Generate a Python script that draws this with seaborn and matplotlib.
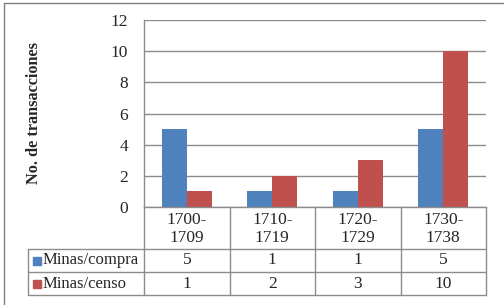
import matplotlib
matplotlib.use("Agg")
import matplotlib.pyplot as plt
from matplotlib.lines import Line2D
from matplotlib.patches import Rectangle
import matplotlib.transforms as mtransforms
import seaborn as sns
import pandas as pd

categories = ["1700-\n1709", "1710-\n1719", "1720-\n1729", "1730-\n1738"]
series_names = ["Minas/compra", "Minas/censo"]
compra = [5, 1, 1, 5]
censo = [1, 2, 3, 10]
yticks = [0, 2, 4, 6, 8, 10, 12]
colors = ["#4F81BD", "#C0504D"]
ylabel = "No. de transacciones"

sns.set_theme(style="white")
plt.rcParams["font.family"] = ["Liberation Serif", "DejaVu Serif"]

df = pd.DataFrame({
    "cat": categories * 2,
    "serie": [series_names[0]] * 4 + [series_names[1]] * 4,
    "val": compra + censo,
})

W, H = 504, 305
fig = plt.figure(figsize=(W / 100, H / 100), dpi=100)
fig.patch.set_facecolor("white")

L, R, T, B = 144, 486, 20, 207
ax = fig.add_axes([L / W, 1 - B / H, (R - L) / W, (B - T) / H])

sns.barplot(data=df, x="cat", y="val", hue="serie", palette=colors,
            width=0.58, saturation=1, ax=ax, legend=False, edgecolor="none")

FS = 12.5
ax.set_xlim(-0.5, 3.5)
ax.set_ylim(0, 12)
ax.set_yticks(yticks)
ax.set_yticklabels([str(v) for v in yticks], fontsize=FS)
ax.tick_params(axis="y", length=0, pad=11.5)
ax.set_xticks([])
ax.set_xlabel("")
ax.set_ylabel(ylabel, fontsize=11.7, fontweight="bold")
ax.yaxis.set_label_coords((42 - L) / (R - L), 0.5)
ax.yaxis.grid(True, color="#8C8C8C", linewidth=1.0)
ax.set_axisbelow(True)
for s in ["top", "right"]:
    ax.spines[s].set_visible(False)
for s in ["left", "bottom"]:
    ax.spines[s].set_color("#8C8C8C")
    ax.spines[s].set_linewidth(1.0)

# Data table below the axes
gcol = "#8C8C8C"
def fy(py):
    return 1 - py / H
def fx(px):
    return px / W

rows_y = [207, 249, 272, 295]
left_tab = 28
trans = mtransforms.blended_transform_factory(ax.transData, fig.transFigure)

fig.add_artist(Line2D([fx(left_tab), fx(R)], [fy(249), fy(249)], color=gcol, lw=1))
fig.add_artist(Line2D([fx(left_tab), fx(R)], [fy(272), fy(272)], color=gcol, lw=1))
fig.add_artist(Line2D([fx(left_tab), fx(R)], [fy(295), fy(295)], color=gcol, lw=1))
fig.add_artist(Line2D([fx(left_tab), fx(left_tab)], [fy(249), fy(295)], color=gcol, lw=1))
fig.add_artist(Line2D([fx(L), fx(L)], [fy(207), fy(295)], color=gcol, lw=1))
for i in range(len(categories)):
    xb = i + 0.5
    fig.add_artist(Line2D([xb, xb], [fy(207), fy(295)], color=gcol, lw=1, transform=trans))

for i, c in enumerate(categories):
    fig.text(i, fy(229), c, transform=trans, ha="center", va="center",
             fontsize=FS, linespacing=1.15)

for r, (name, vals, col) in enumerate(zip(series_names, [compra, censo], colors)):
    yc = (rows_y[r + 1] + rows_y[r + 2]) / 2
    fig.add_artist(Rectangle((fx(33), fy(yc + 4)), 8 / W, 8 / H, color=col,
                             transform=fig.transFigure))
    fig.text(fx(43), fy(yc), name, ha="left", va="center", fontsize=12)
    for i, v in enumerate(vals):
        fig.text(i, fy(yc), str(v), transform=trans, ha="center", va="center",
                 fontsize=FS)

fig.add_artist(Line2D([fx(4), 1], [fy(3), fy(3)], color="#7F7F7F", lw=1))
fig.add_artist(Line2D([fx(4), fx(4)], [fy(3), 0], color="#7F7F7F", lw=1))

fig.savefig("out.png", dpi=100, facecolor="white")
